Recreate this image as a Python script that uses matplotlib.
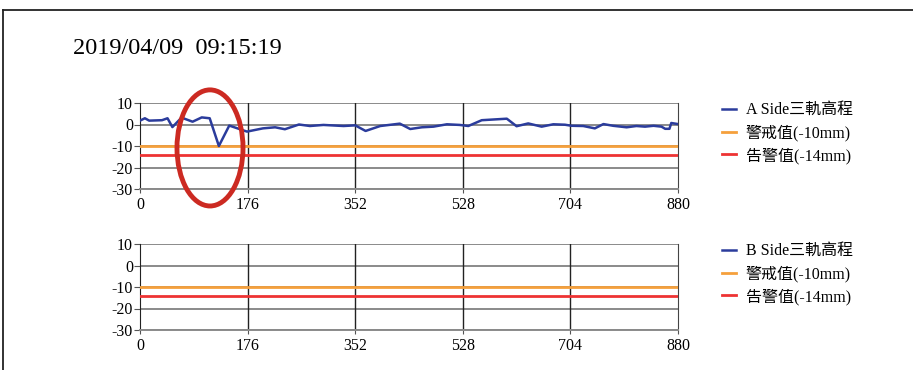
import matplotlib.pyplot as plt
from matplotlib.patches import Ellipse
from matplotlib.lines import Line2D

# 測量時間
stamp = "2019/04/09  09:15:19"

# A Side 三軌高程 (距離, mm)
a_pos = [0, 8, 15, 36, 45, 53, 68, 86, 101, 114, 129, 146, 175, 201, 221, 237,
         260, 278, 300, 333, 352, 369, 393, 425, 442, 461, 480, 502, 523, 537,
         559, 600, 616, 635, 657, 676, 695, 706, 725, 744, 758, 774, 796, 812,
         826, 840, 853, 859, 866, 869, 880]
a_val = [1.8, 2.9, 1.8, 2.0, 2.9, -1.2, 3.2, 1.3, 3.3, 2.9, -10.0, -0.5, -3.3,
         -1.8, -1.3, -2.2, 0.0, -0.7, -0.2, -0.7, -0.4, -3.0, -0.7, 0.4, -2.1,
         -1.3, -1.0, 0.1, -0.2, -0.7, 2.0, 2.7, -0.8, 0.5, -1.0, 0.1, -0.1,
         -0.6, -0.7, -1.8, 0.2, -0.6, -1.3, -0.7, -1.0, -0.6, -1.0, -2.0, -2.0,
         0.7, 0.2]

# B Side 無資料
b_pos = []
b_val = []

warn_level = -10
alarm_level = -14
xticks = [0, 176, 352, 528, 704, 880]
yticks = [10, 0, -10, -20, -30]

fonts = ['Liberation Serif', 'Noto Sans CJK TC']
plt.rcParams['font.family'] = fonts
plt.rcParams['axes.unicode_minus'] = False

fig = plt.figure(figsize=(9.13, 3.70), dpi=100)

# 外框
fig.add_artist(Line2D([3 / 913, 1], [1 - 10 / 370, 1 - 10 / 370], color='#222222', lw=1.3))
fig.add_artist(Line2D([3 / 913, 3 / 913], [0, 1 - 10 / 370], color='#222222', lw=1.3))

fig.text(73 / 913, 1 - 49 / 370, stamp, fontsize=17.5, va='center', ha='left')

def draw_panel(ax, pos, val, name):
    ax.set_xlim(0, 880)
    ax.set_ylim(-30, 10)
    for y in yticks:
        ax.axhline(y, color='#8a8a8a', lw=1.4, zorder=1)
    for x in xticks[1:-1]:
        ax.axvline(x, color='#222222', lw=1.0, zorder=1)
    ln1, = ax.plot(pos, val, color='#2b3c9c', lw=1.8, zorder=4)
    ln2 = ax.axhline(warn_level, color='#f5a03c', lw=2.0, zorder=3)
    ln3 = ax.axhline(alarm_level, color='#ee3333', lw=2.0, zorder=3)
    ax.spines['top'].set_visible(False)
    ax.spines['left'].set_color('#222222')
    ax.spines['right'].set_color('#444444')
    ax.spines['bottom'].set_color('#8a8a8a')
    ax.spines['bottom'].set_linewidth(1.4)
    ax.set_xticks(xticks)
    ax.set_yticks(yticks)
    ax.tick_params(axis='both', labelsize=11.5, length=4, color='#555555', pad=1)
    ax.tick_params(axis='x', length=3, pad=3)
    for t in ax.get_xticklabels() + ax.get_yticklabels():
        t.set_family(fonts)
    ax.legend([ln1, ln2, ln3], [name, '警戒值(-10mm)', '告警值(-14mm)'],
              loc='upper left', bbox_to_anchor=(1.055, 1.175), frameon=False,
              handlelength=0.9, handletextpad=0.6,
              labelspacing=0.38, prop={'family': fonts, 'size': 11.5})
    return ax

ax1 = fig.add_axes([140 / 913, 1 - 189 / 370, 538 / 913, 86 / 370])
draw_panel(ax1, a_pos, a_val, 'A Side三軌高程')

# 標示異常區段
ax1.add_patch(Ellipse((114.5, -10.9), 108, 54, fill=False, edgecolor='#cc2a22',
                      lw=3.5, clip_on=False, zorder=6))

ax2 = fig.add_axes([140 / 913, 1 - 330 / 370, 538 / 913, 86 / 370])
draw_panel(ax2, b_pos, b_val, 'B Side三軌高程')

fig.savefig('out.png', dpi=100)
